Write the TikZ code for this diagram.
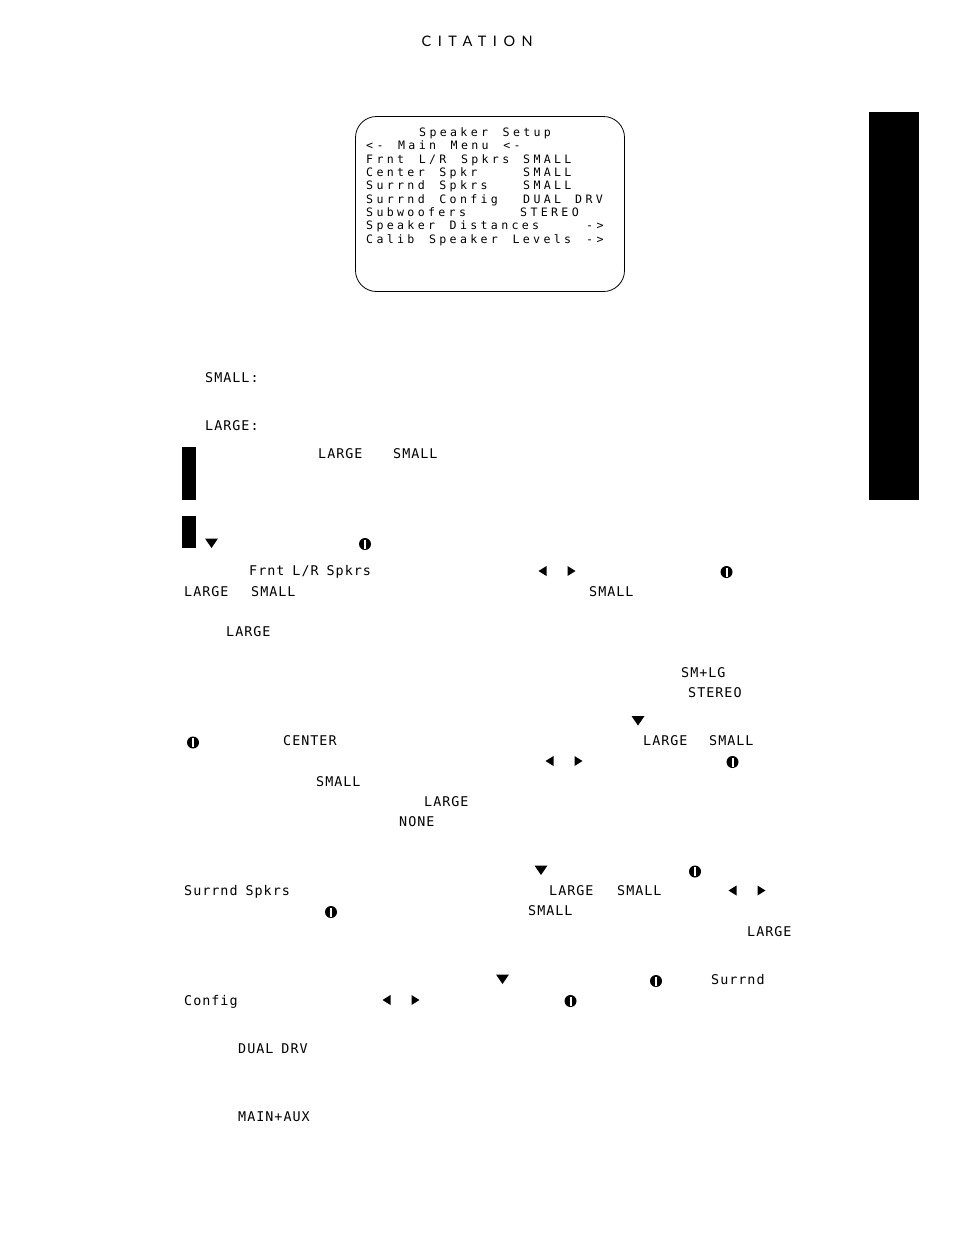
\documentclass[tikz,border=0pt]{standalone}
\usepackage{fontspec}
\setmainfont{DejaVu Sans}
\newfontfamily\bodymono[LetterSpace=7.5,WordSpace=0.88]{DejaVu Sans Mono}
\newfontfamily\screenmono[LetterSpace=28.7,WordSpace=1.42]{DejaVu Sans Mono}
\newfontfamily\headfont[LetterSpace=45]{Lato}
\tikzset{
  x=1pt,y=-1pt,
  bodytxt/.style={anchor=base west,inner sep=0pt,font=\bodymono\fontsize{13.4}{14}\selectfont},
  scrtxt/.style={anchor=base west,inner sep=0pt,font=\screenmono\fontsize{11.6}{12}\selectfont},
  knob/.style={circle,fill=black,minimum size=12pt,inner sep=0pt},
  knobbar/.style={draw=white,line width=2pt}
}
\newcommand{\bt}[4]{\node[bodytxt] (#1) at (#2,#3) {#4};}
\newcommand{\st}[4]{\node[scrtxt] (#1) at (#2,#3) {#4};}
\newcommand{\knb}[3]{\node[knob] (#1) at (#2,#3) {};\draw[knobbar] (#1.center)++(0,-4.5) -- ++(0,9);}
\newcommand{\tdown}[2]{\fill (#1-6.5,#2-4.5) -- (#1+6.5,#2-4.5) -- (#1,#2+5) -- cycle;}
\newcommand{\tleft}[2]{\fill (#1+4,#2-5) -- (#1+4,#2+5) -- (#1-4,#2) -- cycle;}
\newcommand{\tright}[2]{\fill (#1-4,#2-5) -- (#1-4,#2+5) -- (#1+4,#2) -- cycle;}
\begin{document}
\begin{tikzpicture}
\useasboundingbox (0,0) rectangle (954,1235);
\fill[white] (0,0) rectangle (954,1235);
\node[anchor=base west,inner sep=0pt,font=\headfont\fontsize{14.5}{15}\selectfont] (head) at (421.5,46) {CITATION};
\fill (869,112) rectangle (919,500);
\fill (182,447) rectangle (196,500);
\fill (182,516) rectangle (196,548);
\draw[line width=0.8pt,rounded corners=21pt] (355.5,116.5) rectangle (624.5,291.5);
\st{s1}{419}{136}{Speaker Setup}
\st{s2}{366}{149}{<- Main Menu <-}
\st{s3}{366}{163}{Frnt L/R Spkrs}
\st{s3b}{523}{163}{SMALL}
\st{s4}{366}{176}{Center Spkr}
\st{s4b}{523}{176}{SMALL}
\st{s5}{366}{189}{Surrnd Spkrs}
\st{s5b}{523}{189}{SMALL}
\st{s6}{366}{203}{Surrnd Config}
\st{s6b}{523}{203}{DUAL}
\st{s6c}{575}{203}{DRV}
\st{s7}{366}{216}{Subwoofers}
\st{s7b}{520}{216}{STEREO}
\st{s8}{366}{229}{Speaker Distances}
\st{s8b}{586}{229}{->}
\st{s9}{366}{243}{Calib Speaker Levels}
\st{s9b}{586}{243}{->}
\bt{a1}{205}{382}{SMALL:}
\bt{a2}{205}{430}{LARGE:}
\bt{a3}{318}{458}{LARGE}
\bt{a4}{393}{458}{SMALL}
\tdown{211.5}{543}
\knb{k1}{365}{544}
\bt{b1}{249}{575}{Frnt L/R Spkrs}
\tleft{542.5}{571}\tright{571.5}{571}
\knb{k2}{726.5}{572}
\bt{b2}{184}{596}{LARGE}
\bt{b3}{251}{596}{SMALL}
\bt{b4}{589}{596}{SMALL}
\bt{b5}{226}{636}{LARGE}
\bt{c1}{681}{677}{SM+LG}
\bt{c2}{688}{697}{STEREO}
\tdown{638}{720.5}
\knb{k3}{193}{742.5}
\bt{c3}{283}{745}{CENTER}
\bt{c4}{643}{745}{LARGE}
\bt{c5}{709}{745}{SMALL}
\tleft{549.5}{761}\tright{578.5}{761}
\knb{k4}{732.5}{762}
\bt{c6}{316}{786}{SMALL}
\bt{c7}{424}{806}{LARGE}
\bt{c8}{399}{826}{NONE}
\tdown{541}{870}
\knb{k5}{695}{871.5}
\bt{d1}{184}{895}{Surrnd Spkrs}
\bt{d2}{549}{895}{LARGE}
\bt{d3}{617}{895}{SMALL}
\tleft{732.5}{890.5}\tright{761.5}{890.5}
\knb{k6}{331}{912}
\bt{d4}{528}{915}{SMALL}
\bt{d5}{747}{936}{LARGE}
\tdown{502.5}{979}
\knb{k7}{656}{981}
\bt{e1}{711}{984}{Surrnd}
\bt{e2}{184}{1005}{Config}
\tleft{386.5}{1000}\tright{415.5}{1000}
\knb{k8}{570.5}{1001}
\bt{e3}{238}{1053}{DUAL DRV}
\bt{e4}{238}{1121}{MAIN+AUX}
\end{tikzpicture}
\end{document}
